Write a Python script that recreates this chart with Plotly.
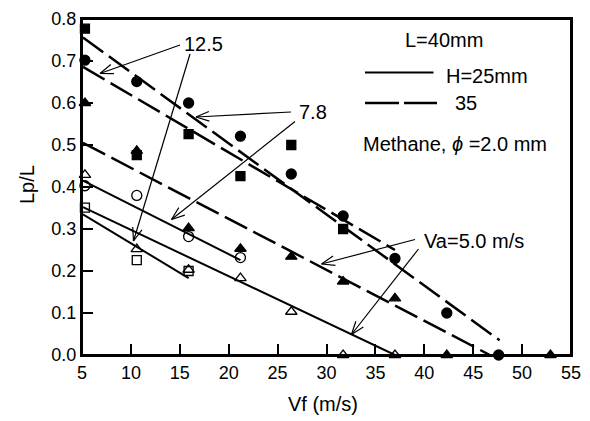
import numpy as np
import plotly.graph_objects as go

# ---------------- data ----------------
vf = [5.3, 10.6, 15.9, 21.2, 26.4, 31.7, 37.0, 42.3, 47.6, 52.9]

# H = 35 mm (filled symbols)
fc_x = vf[:9]
fc_y = [0.702, 0.651, 0.600, 0.521, 0.431, 0.331, 0.230, 0.100, 0.0]
fs_x = vf[:6]
fs_y = [0.777, 0.476, 0.526, 0.426, 0.500, 0.300]
ft_x = [5.3, 10.6, 15.9, 21.2, 26.4, 31.7, 37.0, 42.3, 52.9]
ft_y = [0.600, 0.486, 0.302, 0.253, 0.234, 0.175, 0.135, 0.0, 0.0]

# H = 25 mm (open symbols)
oc_x = vf[:4]
oc_y = [0.403, 0.380, 0.282, 0.232]
ot_x = vf[:7]
ot_y = [0.429, 0.252, 0.203, 0.183, 0.103, 0.0, 0.0]
os_x = vf[:3]
os_y = [0.351, 0.226, 0.200]

# fitted lines
dash_78_x, dash_78_y = [5.1, 47.7], [0.756, 0.035]
dash_125_x, dash_125_y = [5.1, 37.0], [0.686, 0.250]
dash_50_x, dash_50_y = [5.1, 46.7], [0.505, 0.0]
solid_78_x, solid_78_y = [5.1, 21.2], [0.415, 0.226]
solid_50_x, solid_50_y = [5.1, 37.0], [0.352, 0.0]
solid_125_x, solid_125_y = [5.1, 15.9], [0.335, 0.183]

x_ticks = [5, 10, 15, 20, 25, 30, 35, 40, 45, 50, 55]
y_ticks = [0.0, 0.1, 0.2, 0.3, 0.4, 0.5, 0.6, 0.7, 0.8]

# ---------------- layout geometry ----------------
W, H = 590, 421
OFF = 8  # page body margin offset
# desired plot area on screen
PX0, PX1, PY0, PY1 = 82, 571, 19, 355
L, T = PX0 - OFF, PY0 - OFF
R, B = W - (PX1 - OFF), H - (PY1 - OFF)
XR = (5, 55)
YR = (0, 0.8)
pw, ph = PX1 - PX0, PY1 - PY0
sx = pw / (XR[1] - XR[0])
sy = ph / (YR[1] - YR[0])


def px2d(px, py):
    return XR[0] + (px - PX0) / sx, YR[0] + (PY1 - py) / sy


FONT = "Liberation Sans, Arial, sans-serif"

fig = go.Figure()

dash_style = "25px,7px"
for xs, ys in [(dash_78_x, dash_78_y), (dash_125_x, dash_125_y), (dash_50_x, dash_50_y)]:
    fig.add_trace(go.Scatter(x=xs, y=ys, mode="lines",
                             line=dict(color="black", width=2.5, dash=dash_style),
                             showlegend=False, hoverinfo="skip"))
for xs, ys in [(solid_78_x, solid_78_y), (solid_50_x, solid_50_y), (solid_125_x, solid_125_y)]:
    fig.add_trace(go.Scatter(x=xs, y=ys, mode="lines",
                             line=dict(color="black", width=2),
                             showlegend=False, hoverinfo="skip"))

marker_sets = [
    (fc_x, fc_y, "circle", 10),
    (fs_x, fs_y, "square", 9),
    (ft_x, ft_y, "triangle-up", 10),
    (oc_x, oc_y, "circle-open", 10),
    (ot_x, ot_y, "triangle-up-open", 10),
    (os_x, os_y, "square-open", 9),
]
for xs, ys, sym, sz in marker_sets:
    fig.add_trace(go.Scatter(x=xs, y=ys, mode="markers",
                             marker=dict(symbol=sym, size=sz, color="black",
                                         line=dict(color="black", width=1.3)),
                             cliponaxis=False, showlegend=False))

# ---------------- arrows (open V heads) ----------------
arrows_px = [
    ((180, 45), (100, 73.5)),
    ((190, 54), (133.5, 241)),
    ((291, 112), (196, 117)),
    ((295, 121.5), (171.5, 219.5)),
    ((415, 239.5), (321.5, 264)),
    ((418.5, 249), (351.5, 334.5)),
]
shapes = []
head_len, head_ang = 14, np.deg2rad(20)
for (tx, ty), (hx, hy) in arrows_px:
    x0, y0 = px2d(tx, ty)
    x1, y1 = px2d(hx, hy)
    shapes.append(dict(type="line", xref="x", yref="y", x0=x0, y0=y0, x1=x1, y1=y1,
                       line=dict(color="black", width=1.2)))
    d = np.array([tx - hx, ty - hy], dtype=float)
    d /= np.linalg.norm(d)
    for s in (1, -1):
        c, sn = np.cos(s * head_ang), np.sin(s * head_ang)
        r = np.array([c * d[0] - sn * d[1], sn * d[0] + c * d[1]])
        ex, ey = hx + head_len * r[0], hy + head_len * r[1]
        ax_, ay_ = px2d(ex, ey)
        shapes.append(dict(type="line", xref="x", yref="y", x0=x1, y0=y1, x1=ax_, y1=ay_,
                           line=dict(color="black", width=1.2)))

# legend samples
lx0, ly = px2d(365, 72.5)
lx1, _ = px2d(433.5, 72.5)
shapes.append(dict(type="line", xref="x", yref="y", x0=lx0, y0=ly, x1=lx1, y1=ly,
                   line=dict(color="black", width=2)))
dx0, dy = px2d(365, 103)
dx1, _ = px2d(437, 103)
shapes.append(dict(type="line", xref="x", yref="y", x0=dx0, y0=dy, x1=dx1, y1=dy,
                   line=dict(color="black", width=2.5, dash="34px,5px")))

# frame box
shapes.append(dict(type="rect", xref="paper", yref="paper", x0=0, y0=0, x1=1, y1=1,
                   line=dict(color="black", width=2), fillcolor="rgba(0,0,0,0)",
                   layer="above"))

# ---------------- text ----------------
annotations = []


def txt(px, py, s, size=20, xanchor="center"):
    x, y = px2d(px, py)
    annotations.append(dict(x=x, y=y, xref="x", yref="y", text=s, showarrow=False,
                            xanchor=xanchor, yanchor="middle",
                            font=dict(family=FONT, size=size, color="black")))


txt(203, 44, "12.5")
txt(313, 112, "7.8")
txt(474, 241, "Va=5.0 m/s")
txt(444, 40, "L=40mm")
txt(444, 75.5, "H=25mm", xanchor="left")
txt(453, 102.5, "35", xanchor="left")
txt(455, 144, "Methane, <i>ϕ</i> =2.0 mm")

annotations.append(dict(x=(27 - PX0) / pw, y=(PY1 - 185) / ph, xref="paper", yref="paper",
                        text="Lp/L", showarrow=False, textangle=-90,
                        xanchor="center", yanchor="middle",
                        font=dict(family=FONT, size=20, color="black")))
annotations.append(dict(x=(323 - PX0) / pw, y=(PY1 - 404) / ph, xref="paper", yref="paper",
                        text="Vf (m/s)", showarrow=False,
                        xanchor="center", yanchor="middle",
                        font=dict(family=FONT, size=20, color="black")))

fig.update_layout(
    width=W, height=H, autosize=False,
    margin=dict(l=L, r=R, t=T, b=B, pad=0, autoexpand=False),
    paper_bgcolor="white", plot_bgcolor="white",
    showlegend=False,
    shapes=shapes, annotations=annotations,
    font=dict(family=FONT, size=18, color="black"),
)
fig.update_xaxes(range=list(XR), tickvals=x_ticks, ticktext=[str(v) for v in x_ticks],
                 ticks="inside", ticklen=11, tickwidth=1.5, tickcolor="black",
                 showline=True, linecolor="black", linewidth=2, mirror=True,
                 showgrid=False, zeroline=False, automargin=False,
                 ticklabeloverflow="allow",
                 tickfont=dict(family=FONT, size=18, color="black"))
fig.update_yaxes(range=list(YR), tickvals=y_ticks, ticktext=[f"{v:.1f}" for v in y_ticks],
                 ticks="inside", ticklen=11, tickwidth=1.5, tickcolor="black",
                 showline=True, linecolor="black", linewidth=2, mirror=True,
                 showgrid=False, zeroline=False, automargin=False,
                 ticklabeloverflow="allow",
                 tickfont=dict(family=FONT, size=18, color="black"))

fig.write_html("out.html")
